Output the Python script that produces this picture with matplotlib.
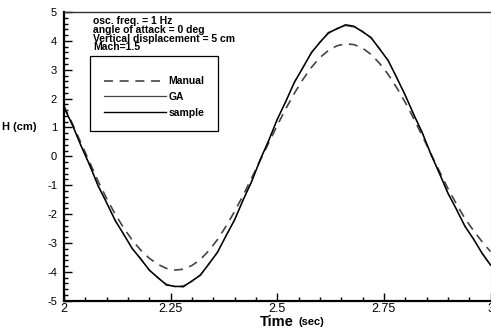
#! /usr/bin/env python3
#
# Plunge displacement H(t): manual tuning vs GA result vs sample signal

import matplotlib

matplotlib.use("Agg")

import matplotlib.pyplot as plt
import numpy as np
from matplotlib.ticker import MultipleLocator

plt.rcParams["font.family"] = ["Liberation Sans", "DejaVu Sans"]
plt.rcParams["axes.unicode_minus"] = False

# Sampling times (sec)
time = np.linspace(2.0, 3.0, 51)

# Displacement (cm)
manual = [
    1.75, 1.12, 0.46, -0.20, -0.86, -1.46, -2.00, -2.48, -2.90, -3.25,
    -3.53, -3.74, -3.88, -3.94, -3.91, -3.78, -3.57, -3.26, -2.88, -2.42,
    -1.91, -1.35, -0.75, -0.14, 0.47, 1.07, 1.65, 2.18, 2.66, 3.08,
    3.42, 3.67, 3.83, 3.90, 3.87, 3.75, 3.53, 3.22, 2.84, 2.38,
    1.87, 1.31, 0.71, 0.10, -0.51, -1.11, -1.65, -2.15, -2.57, -2.95,
    -3.30,
]
ga = [
    1.70, 1.06, 0.38, -0.32, -1.00, -1.62, -2.20, -2.72, -3.18, -3.58,
    -3.92, -4.22, -4.42, -4.52, -4.48, -4.34, -4.09, -3.74, -3.30, -2.77,
    -2.18, -1.53, -0.85, -0.14, 0.57, 1.26, 1.92, 2.54, 3.09, 3.57,
    3.97, 4.25, 4.44, 4.53, 4.48, 4.34, 4.09, 3.74, 3.30, 2.75,
    2.10, 1.47, 0.80, 0.10, -0.60, -1.25, -1.85, -2.40, -2.88, -3.33,
    -3.75,
]
sample = [
    1.70, 1.09, 0.36, -0.28, -1.03, -1.60, -2.23, -2.69, -3.20, -3.54,
    -3.95, -4.19, -4.46, -4.50, -4.52, -4.31, -4.12, -3.71, -3.33, -2.74,
    -2.21, -1.50, -0.88, -0.11, 0.54, 1.29, 1.89, 2.57, 3.06, 3.60,
    3.94, 4.29, 4.41, 4.56, 4.51, 4.31, 4.12, 3.71, 3.33, 2.72,
    2.13, 1.44, 0.83, 0.07, -0.57, -1.28, -1.82, -2.43, -2.85, -3.36,
    -3.77,
]

notes = [
    "osc. freq. = 1 Hz",
    "angle of attack = 0 deg",
    "Vertical displacement = 5 cm",
    "Mach=1.5",
]

fig = plt.figure(figsize=(4.91, 3.29), dpi=100)
ax = fig.add_axes([0.1303, 0.086, 0.8687, 0.8775])

ax.plot(time, manual, color="#444444", linewidth=1.2, dashes=(5.4, 4.0), label="Manual")
ax.plot(time, ga, color="#444444", linewidth=0.9, label="GA")
ax.plot(time, sample, color="black", linewidth=1.0, label="sample")

ax.set_xlim(2, 3)
ax.set_ylim(-5, 5)
ax.xaxis.set_major_locator(MultipleLocator(0.25))
ax.xaxis.set_minor_locator(MultipleLocator(0.05))
ax.yaxis.set_major_locator(MultipleLocator(1))
ax.yaxis.set_minor_locator(MultipleLocator(0.2))
ax.set_xticks([2, 2.25, 2.5, 2.75, 3])
ax.set_xticklabels(["2", "2.25", "2.5", "2.75", "3"])

ax.tick_params(which="both", direction="in", top=False, right=False, width=1.0, color="black")
ax.tick_params(which="major", length=5.8)
ax.tick_params(which="minor", length=2.9)
ax.tick_params(axis="x", labelsize=9, pad=1.5)
ax.tick_params(axis="y", labelsize=8, pad=5)

for side in ("left", "bottom"):
    ax.spines[side].set_linewidth(1.6)
    ax.spines[side].set_color("black")
ax.spines["top"].set_linewidth(1.0)
ax.spines["top"].set_color("#333333")
ax.spines["right"].set_linewidth(0.8)
ax.spines["right"].set_color("#999999")

# Axis titles
ax.set_xlabel("Time", fontsize=10.5, fontweight="bold", labelpad=0)
ax.annotate("(sec)", xy=(1, 0), xycoords=ax.xaxis.label, xytext=(3, 1.5),
            textcoords="offset points", fontsize=8, fontweight="bold",
            ha="left", va="bottom")
ax.set_ylabel("H (cm)", fontsize=8, fontweight="bold", rotation=0, ha="left", va="center")
ax.yaxis.set_label_coords(-0.146, 0.6)

# Case description, one block of tightly spaced lines
ax.text(0.068, 0.985, "\n".join(notes), transform=ax.transAxes,
        fontsize=7.5, fontweight="bold", ha="left", va="top", linespacing=0.84)

# A near-zero blank title pushes the entries down inside the frame
leg = ax.legend(loc="upper left", bbox_to_anchor=(0.062, 0.848), borderaxespad=0,
                fancybox=False, framealpha=1, edgecolor="black",
                prop={"size": 7.5, "weight": "bold"}, handlelength=6.0,
                handletextpad=0.2, borderpad=1.3, labelspacing=0.55,
                title=" ", title_fontsize=0.5)
leg.get_frame().set_linewidth(0.9)

fig.savefig("out.png", dpi=100)
